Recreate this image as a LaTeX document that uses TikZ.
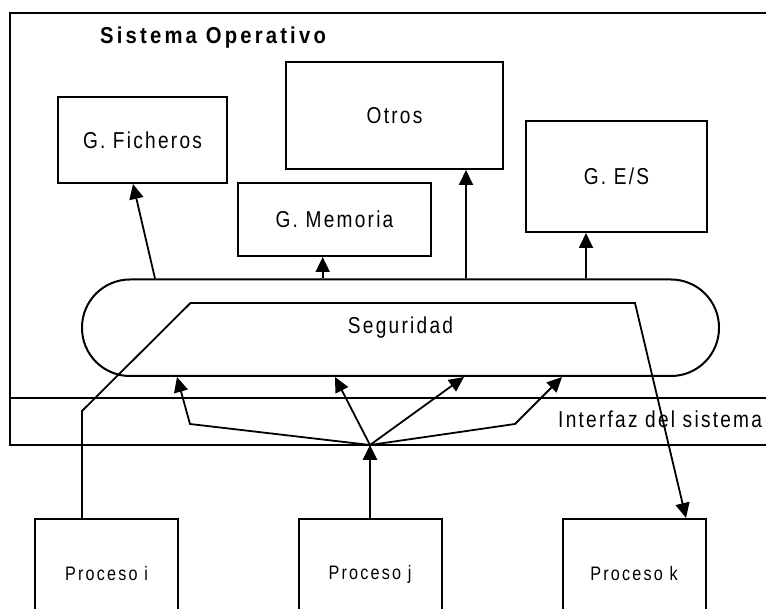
\documentclass[tikz,border=0pt]{standalone}
\usepackage{fontspec}
\setmainfont{Liberation Sans}
\newfontfamily\lblfont{Liberation Sans}[FakeStretch=0.83, LetterSpace=9.8]
\newfontfamily\procfont{Liberation Sans}[FakeStretch=0.83, LetterSpace=11.3]
\newfontfamily\headfont{Liberation Sans Bold}[FakeStretch=0.88, LetterSpace=13.9]
\usetikzlibrary{arrows.meta}
\begin{document}
\begin{tikzpicture}[x=1pt,y=-1pt,
  box/.style={draw, line width=2pt, inner sep=0pt, font=\lblfont\fontsize{23}{26}\selectfont},
  procbox/.style={draw, line width=2pt, inner sep=0pt, minimum width=143, minimum height=130},
  lbl/.style={inner sep=0pt, font=\lblfont\fontsize{23}{26}\selectfont},
  plbl/.style={inner sep=0pt, font=\procfont\fontsize{19.5}{22}\selectfont},
  arr/.style={line width=1.8pt, -{Triangle[length=15pt,width=14pt]}},
  bigarr/.style={line width=2.6pt, -{Triangle[length=15pt,width=14pt]}},
]
\useasboundingbox (0,0) rectangle (766,609);
\fill[white] (0,0) rectangle (766,609);

% Operating-system frame and the system-interface band
\draw[line width=2.4pt] (790,13) -- (10,13) -- (10,445) -- (790,445);
\draw[line width=2pt] (10,398) -- (790,398);
\node[anchor=base west, inner sep=0pt, font=\headfont\fontsize{23}{26}\selectfont] (title) at (100,44) {Sistema Operativo};
\node[lbl, anchor=base west] (iface) at (558,428) {Interfaz del sistema};

% Kernel subsystems
\node[box, minimum width=169, minimum height=86] (fich) at (142.5,140) {G. Ficheros};
\node[box, minimum width=217, minimum height=107] (otros) at (394.5,115.5) {Otros};
\node[box, minimum width=193, minimum height=73] (mem) at (334.5,219.5) {G. Memoria};
\node[box, minimum width=181, minimum height=111] (es) at (616.5,176.5) {G. E/S};

% Security layer
\node[box, rounded corners=48, minimum width=637, minimum height=96.5] (seg) at (400.5,327.75) {Seguridad};

% Processes
\node[procbox] (pi) at (106.5,584) {};
\node[procbox] (pj) at (370,584) {};
\node[procbox] (pk) at (634,584) {};
\node[plbl] (pil) at (106.5,574) {Proceso i};
\node[plbl] (pjl) at (370,574) {Proceso j};
\node[plbl] (pkl) at (634,574) {Proceso k};

% Security layer to subsystems
\draw[arr] (155,0 |- seg.north) -- (133,0 |- fich.south);
\draw[arr] (322.7,0 |- seg.north) -- (322.7,0 |- mem.south);
\draw[arr] (466,0 |- seg.north) -- (466,0 |- otros.south);
\draw[arr] (586,0 |- seg.north) -- (586,0 |- es.south);

% Call from process j fanning out into the security layer
\coordinate (hub) at (370,445);
\draw[bigarr] (pj) -- (hub);
\draw[arr] (hub) -- (190,424) -- (177,0 |- seg.south);
\draw[arr] (hub) -- (335,0 |- seg.south);
\draw[arr] (hub) -- (464,0 |- seg.south);
\draw[arr] (hub) -- (515,424) -- (562,0 |- seg.south);

% Path from process i through the security layer to process k
\draw[arr] (82,0 |- pi.north) -- (82,411) -- (190.5,303) -- (635,303) -- (686,0 |- pk.north);
\end{tikzpicture}
\end{document}
